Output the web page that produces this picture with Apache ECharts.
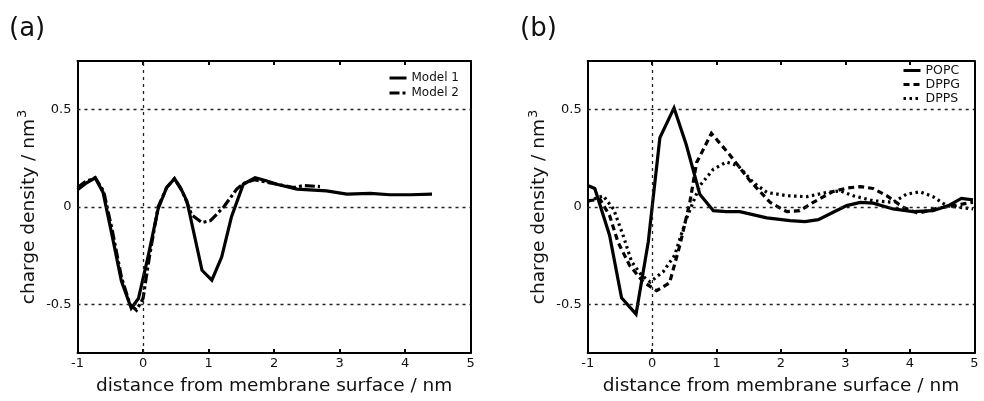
<!DOCTYPE html>
<html>
<head>
<meta charset="utf-8">
<script src="https://cdn.jsdelivr.net/npm/echarts@6/dist/echarts.min.js"></script>
<style>
  html, body { margin: 0; padding: 0; background: #fff; }
  #chart { width: 984px; height: 401px; }
</style>
</head>
<body>
<div id="chart"></div>
<script>
// Charge density profiles vs. distance from the membrane surface.

// Panel (a): two models
const model1X = [-1.0, -0.88, -0.73, -0.61, -0.47, -0.33, -0.18, -0.07, 0.08, 0.23, 0.36, 0.48, 0.57, 0.67, 0.9, 1.05, 1.2, 1.35, 1.53, 1.71, 1.88, 2.04, 2.35, 2.8, 3.11, 3.47, 3.77, 4.08, 4.41];
const model1Y = [0.088, 0.12, 0.15, 0.075, -0.15, -0.38, -0.52, -0.47, -0.25, -0.01, 0.1, 0.146, 0.1, 0.03, -0.325, -0.376, -0.257, -0.05, 0.117, 0.15, 0.135, 0.117, 0.092, 0.083, 0.066, 0.07, 0.063, 0.063, 0.066];

const model2X = [-1.0, -0.88, -0.73, -0.6, -0.47, -0.33, -0.2, -0.1, 0.0, 0.1, 0.23, 0.36, 0.48, 0.6, 0.67, 0.74, 0.9, 1.03, 1.23, 1.43, 1.53, 1.7, 2.0, 2.3, 2.45, 2.7];
const model2Y = [0.1, 0.13, 0.15, 0.08, -0.12, -0.36, -0.5, -0.53, -0.47, -0.25, 0.0, 0.1, 0.145, 0.08, 0.024, -0.04, -0.08, -0.07, 0.0, 0.092, 0.12, 0.14, 0.12, 0.1, 0.11, 0.105];

// Panel (b): three lipids
const popcX = [-0.99, -0.89, -0.66, -0.475, -0.25, -0.06, 0.12, 0.34, 0.53, 0.74, 0.95, 1.155, 1.36, 1.78, 2.14, 2.37, 2.58, 2.81, 3.02, 3.23, 3.43, 3.74, 4.05, 4.36, 4.6, 4.8, 4.98];
const popcY = [0.109, 0.095, -0.146, -0.466, -0.55, -0.18, 0.356, 0.509, 0.32, 0.066, -0.019, -0.024, -0.024, -0.056, -0.07, -0.075, -0.065, -0.027, 0.007, 0.024, 0.02, -0.01, -0.024, -0.019, 0.007, 0.044, 0.037];

const dppgX = [-0.99, -0.81, -0.66, -0.53, -0.35, -0.14, 0.07, 0.27, 0.43, 0.585, 0.69, 0.92, 1.2, 1.52, 1.83, 2.09, 2.29, 2.5, 2.81, 3.02, 3.23, 3.43, 3.64, 3.9, 4.13, 4.42, 4.73, 4.98];
const dppgY = [0.032, 0.04, -0.044, -0.18, -0.3, -0.384, -0.43, -0.39, -0.197, 0.024, 0.228, 0.378, 0.27, 0.134, 0.024, -0.024, -0.019, 0.024, 0.08, 0.097, 0.105, 0.095, 0.058, -0.002, -0.032, -0.007, 0.01, 0.024];

const dppsX = [-0.99, -0.76, -0.6, -0.45, -0.32, -0.165, -0.03, 0.17, 0.35, 0.53, 0.74, 0.95, 1.155, 1.34, 1.57, 1.78, 2.09, 2.4, 2.71, 2.92, 3.12, 3.43, 3.74, 3.95, 4.16, 4.36, 4.57, 4.78, 4.98];
const dppsY = [0.03, 0.058, -0.01, -0.146, -0.28, -0.35, -0.385, -0.333, -0.248, -0.061, 0.109, 0.194, 0.231, 0.21, 0.126, 0.075, 0.058, 0.053, 0.075, 0.083, 0.058, 0.032, 0.024, 0.066, 0.078, 0.053, 0.007, -0.002, -0.01];

// Axis ticks and reference lines
const xRange = [-1, 5];
const yRange = [-0.75, 0.75];
const yTickLabels = [-0.5, 0, 0.5];
const refLinesY = [-0.5, 0, 0.5];
const refLinesX = [0];
const panelNames = ['(a)', '(b)'];
const xTitle = 'distance from membrane surface / nm';

const zip = (xs, ys) => xs.map((x, i) => [x, ys[i]]);

const FONT = 'DejaVu Sans';
const INK = '#000';

function xAxes(gi) {
  return [
    {
      type: 'value', gridIndex: gi, position: 'bottom',
      min: xRange[0], max: xRange[1], interval: 1,
      axisLine: { onZero: false, lineStyle: { color: INK, width: 2 } },
      axisTick: { inside: true, length: 4, lineStyle: { color: INK, width: 2 } },
      axisLabel: { color: '#111', fontFamily: FONT, fontSize: 13, margin: 4 },
      splitLine: { show: false },
      name: xTitle, nameLocation: 'middle', nameGap: 24,
      nameTextStyle: { color: '#111', fontFamily: FONT, fontSize: 18.5 }
    },
    {
      type: 'value', gridIndex: gi, position: 'top',
      min: xRange[0], max: xRange[1], interval: 1,
      axisLine: { onZero: false, lineStyle: { color: INK, width: 2 } },
      axisTick: { inside: true, length: 4, lineStyle: { color: INK, width: 2 } },
      axisLabel: { show: false },
      splitLine: { show: false }
    }
  ];
}

function yAxes(gi) {
  return [
    {
      type: 'value', gridIndex: gi, position: 'left',
      min: yRange[0], max: yRange[1], interval: 0.25,
      axisLine: { onZero: false, lineStyle: { color: INK, width: 2 } },
      axisTick: { show: false },
      axisLabel: {
        color: '#111', fontFamily: FONT, fontSize: 13, margin: 6,
        formatter: v => yTickLabels.some(t => Math.abs(t - v) < 1e-9) ? String(Math.round(v * 10) / 10) : ''
      },
      splitLine: { show: false },
      name: '{t|charge density / nm}{s|3}', nameLocation: 'middle', nameGap: 36,
      nameTextStyle: {
        color: '#111', fontFamily: FONT, fontSize: 18.5,
        rich: {
          t: { fontFamily: FONT, fontSize: 18.5, color: '#111' },
          s: { fontFamily: FONT, fontSize: 13, color: '#111', padding: [0, 0, 12, 1] }
        }
      }
    },
    {
      type: 'value', gridIndex: gi, position: 'right',
      min: yRange[0], max: yRange[1], interval: 0.25,
      axisLine: { onZero: false, lineStyle: { color: INK, width: 2 } },
      axisTick: { show: false },
      axisLabel: { show: false },
      splitLine: { show: false }
    }
  ];
}

function refSeries(gi) {
  return {
    type: 'line', xAxisIndex: gi * 2, yAxisIndex: gi * 2, data: [], z: 1,
    silent: true,
    markLine: {
      silent: true, symbol: 'none', animation: false,
      label: { show: false },
      lineStyle: { color: '#222', width: 1.3, type: [3, 4] },
      data: refLinesY.map(v => ({ yAxis: v })).concat(refLinesX.map(v => ({ xAxis: v })))
    }
  };
}

function curve(name, gi, xs, ys, dash) {
  return {
    name, type: 'line', xAxisIndex: gi * 2, yAxisIndex: gi * 2,
    data: zip(xs, ys), symbol: 'none', z: 3, animation: false,
    lineStyle: { color: INK, width: 3.2, type: dash, cap: 'butt', join: 'miter' },
    itemStyle: { color: INK }
  };
}

const legendBase = {
  orient: 'vertical', itemWidth: 17, itemHeight: 10, padding: 0,
  lineStyle: { width: 3 },
  itemStyle: { opacity: 0, borderWidth: 0 }
};

const chart = echarts.init(document.getElementById('chart'), null, { renderer: 'canvas' });
chart.setOption({
  backgroundColor: '#fff',
  animation: false,
  title: [
    { text: panelNames[0], left: 9, top: 16, padding: 0, textStyle: { fontFamily: FONT, fontSize: 26, fontWeight: 'normal', color: '#111' } },
    { text: panelNames[1], left: 520, top: 16, padding: 0, textStyle: { fontFamily: FONT, fontSize: 26, fontWeight: 'normal', color: '#111' } }
  ],
  grid: [
    { left: 77.5, right: 513.3, top: 61, bottom: 46 },
    { left: 587.7, right: 9.7, top: 61, bottom: 46 }
  ],
  legend: [
    Object.assign({}, legendBase, {
      data: ['Model 1', 'Model 2'], left: 388, top: 71, itemGap: 1,
      textStyle: { fontFamily: FONT, fontSize: 12, color: '#111', lineHeight: 14 }
    }),
    Object.assign({}, legendBase, {
      data: ['POPC', 'DPPG', 'DPPS'], left: 902, top: 63.5, itemGap: 0,
      textStyle: { fontFamily: FONT, fontSize: 12.5, color: '#111', lineHeight: 14 }
    })
  ],
  xAxis: xAxes(0).concat(xAxes(1)),
  yAxis: yAxes(0).concat(yAxes(1)),
  series: [
    refSeries(0),
    refSeries(1),
    curve('Model 1', 0, model1X, model1Y, 'solid'),
    curve('Model 2', 0, model2X, model2Y, [10, 3, 3, 3]),
    curve('POPC', 1, popcX, popcY, 'solid'),
    curve('DPPG', 1, dppgX, dppgY, [6, 4]),
    curve('DPPS', 1, dppsX, dppsY, [2.5, 3.5])
  ]
});
</script>
</body>
</html>
